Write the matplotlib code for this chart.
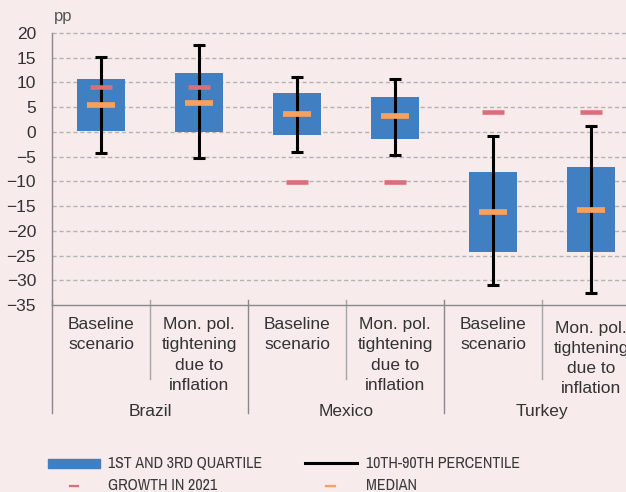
import numpy as np
import matplotlib.pyplot as plt
from matplotlib.lines import Line2D
from matplotlib.patches import Rectangle

plt.rcParams['font.family'] = ['Liberation Sans', 'DejaVu Sans']

# ====> data (pp)
categories = ['Baseline\nscenario', 'Mon. pol.\ntightening\ndue to\ninflation'] * 3
countries = ['Brazil', 'Mexico', 'Turkey']
q1 = [0.2, 0.0, -0.6, -1.4, -24.2, -24.2]
q3 = [10.7, 11.9, 7.9, 7.1, -8.1, -7.1]
p10 = [-4.3, -5.3, -4.1, -4.6, -30.9, -32.5]
p90 = [15.2, 17.5, 11.1, 10.6, -0.9, 1.2]
median = [5.5, 5.9, 3.7, 3.3, -16.2, -15.8]
growth_2021 = [9.1, 9.1, -10.2, -10.2, 4.0, 4.0]
yticks = list(range(-35, 21, 5))

# ====> colours
bg = '#f7ebeb'
blue = '#3f7fc2'
orange = '#f7a15e'
pink = '#d96f7b'
grey = '#8a8a8a'
txt = '#333333'
narrow = ['Archivo Narrow', 'Roboto Condensed', 'Liberation Sans']

W, H = 626, 492
fig = plt.figure(figsize=(W / 100, H / 100), dpi=100, facecolor=bg)
ax = fig.add_axes([52 / W, 1 - 305 / H, 588 / W, 272 / H])
ax.set_facecolor(bg)

x = np.arange(len(categories)) + 0.5
q1a, q3a = np.array(q1), np.array(q3)
p10a, p90a = np.array(p10), np.array(p90)

# ====> boxes, whiskers, markers
ax.bar(x, q3a - q1a, bottom=q1a, width=0.48, color=blue, zorder=2)
ax.errorbar(x, p10a, yerr=[np.zeros(len(x)), p90a - p10a], fmt='none',
            ecolor='black', elinewidth=2.2, capsize=4, capthick=2.2, zorder=3)
ax.hlines(growth_2021, x - 0.112, x + 0.112, color=pink, lw=3.3, zorder=4)
ax.hlines(median, x - 0.138, x + 0.138, color=orange, lw=4.1, zorder=5)

# ====> axes styling
ax.set_xlim(0, 6)
ax.set_ylim(-35, 20)
ax.set_yticks(yticks)
for t in yticks[1:]:
    ax.axhline(t, color='#b3b3b3', lw=1, ls=(0, (3, 2)), zorder=1, clip_on=False)
for s in ['top', 'right']:
    ax.spines[s].set_visible(False)
for s in ['left', 'bottom']:
    ax.spines[s].set_color(grey)
    ax.spines[s].set_linewidth(1)
ax.set_xticks([])
ax.tick_params(axis='y', length=0, pad=11.5, labelsize=12.5, labelcolor=txt)

tr = ax.get_xaxis_transform()
# divider lines under the axis
for i in range(7):
    bottom = -0.397 if i % 2 == 0 else -0.272
    col = grey if i % 2 == 0 else '#a5a5a5'
    ax.plot([i, i], [0.018, bottom], color=col, lw=1, transform=tr, clip_on=False)

for i, (xi, lab) in enumerate(zip(x, categories)):
    off = -11.5 if i == 5 else -8.8  # last label sits a bit lower in the source
    ax.annotate(lab, (xi, 0), xycoords=tr, xytext=(0, off), textcoords='offset points',
                ha='center', va='top', fontsize=12.5, color=txt, linespacing=1.43)
for i, c in enumerate(countries):
    ax.annotate(c, (2 * i + 1, 0), xycoords=tr, xytext=(0, -76.5), textcoords='offset points',
                ha='center', va='center', fontsize=12.5, color=txt)

fig.text(54 / W, 1 - 17 / H, 'pp', ha='left', va='center', fontsize=12, color='#555555')

# ====> legend drawn by hand
def fx(px):
    return px / W

def fy(py):
    return 1 - py / H

fig.add_artist(Rectangle((fx(48), fy(467.7)), fx(52), 8.4 / H, color=blue,
                         transform=fig.transFigure))
fig.add_artist(Line2D([fx(305), fx(357)], [fy(463.3)] * 2, color='black', lw=2.2,
                      transform=fig.transFigure))
fig.add_artist(Line2D([fx(69.5), fx(77.5)], [fy(485.7)] * 2, color=pink, lw=1.6,
                      transform=fig.transFigure))
fig.add_artist(Line2D([fx(326), fx(335)], [fy(485.7)] * 2, color=orange, lw=1.6,
                      transform=fig.transFigure))
leg_items = [('1ST AND 3RD QUARTILE', 108, 463.3), ('10TH-90TH PERCENTILE', 366, 463.3),
             ('GROWTH IN 2021', 108, 485.7), ('MEDIAN', 366, 485.7)]
for lab, lx, ly in leg_items:
    fig.text(fx(lx), fy(ly), lab, ha='left', va='center', fontsize=11.5,
             family=narrow, color='#3a3a3a')

fig.savefig('out.png', dpi=100, facecolor=bg)
